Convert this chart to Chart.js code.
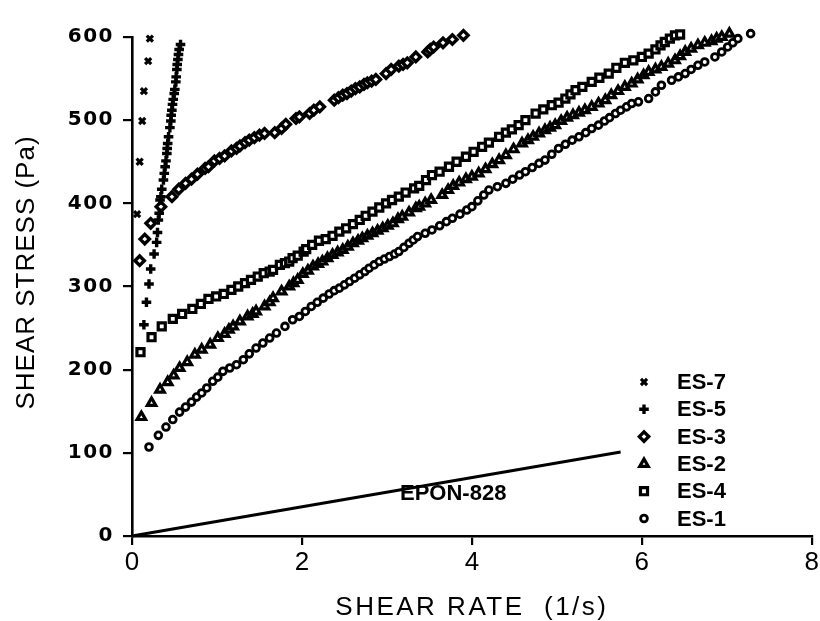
<!DOCTYPE html>
<html>
<head>
<meta charset="utf-8">
<script src="https://cdn.jsdelivr.net/npm/chart.js@4/dist/chart.umd.min.js"></script>
<style>
  html, body { margin: 0; padding: 0; background: #fff; }
  #wrap { width: 820px; height: 621px; }
</style>
</head>
<body>
<div id="wrap"><canvas id="flow" width="820" height="621"></canvas></div>
<script>
// Shear stress (Pa) against shear rate (1/s) for the ES blends and neat EPON-828.
// Each series is a list of [shear rate, shear stress] readings.

const es7 = [[0.06,387],[0.09,450],[0.12,499],[0.14,535],[0.19,571],[0.21,598],[0.25,620]];

const es5 = [[0.14,254],[0.17,281],[0.20,303],[0.22,321],[0.26,339],[0.29,353],[0.30,365],
  [0.31,380],[0.32,388],[0.33,404],[0.34,408],[0.35,417],[0.37,428],[0.38,436],[0.39,444],
  [0.40,451],[0.41,460],[0.414,466],[0.42,472],[0.43,480],[0.446,491],[0.457,499],[0.461,506],
  [0.469,512],[0.477,519],[0.485,525],[0.497,532],[0.504,537],[0.516,546],[0.52,552],
  [0.528,561],[0.532,567],[0.54,573],[0.547,579],[0.555,585],[0.571,591]];

const es3 = [[0.09,331],[0.15,357],[0.22,376],[0.34,396],[0.47,408],[0.55,417],[0.63,424],
  [0.70,429],[0.77,435],[0.86,442],[0.90,444],[0.97,451],[1.03,454],[1.09,457],[1.17,463],
  [1.23,466],[1.27,469],[1.33,473],[1.38,476],[1.44,479],[1.50,482],[1.56,484],[1.68,485],
  [1.76,490],[1.81,495],[1.93,502],[1.97,504],[2.09,508],[2.14,512],[2.21,516],[2.38,524],
  [2.43,527],[2.48,530],[2.53,532],[2.58,535],[2.63,538],[2.68,540],[2.73,543],[2.77,545],
  [2.82,547],[2.87,549],[2.99,556],[3.05,561],[3.14,565],[3.19,567],[3.24,569],[3.34,576],
  [3.48,582],[3.51,585],[3.55,588],[3.66,593],[3.77,597],[3.90,602]];

const es2 = [[0.11,143],[0.23,160],[0.33,176],[0.42,185],[0.49,193],[0.56,202],[0.65,209],
  [0.74,218],[0.82,224],[0.92,230],[1.01,238],[1.09,243],[1.14,248],[1.19,252],[1.27,258],
  [1.36,264],[1.42,267],[1.46,270],[1.56,276],[1.62,281],[1.66,286],[1.76,294],[1.85,300],
  [1.90,304],[1.95,308],[2.01,315],[2.07,319],[2.13,324],[2.19,327],[2.24,330],[2.30,334],
  [2.36,338],[2.42,341],[2.48,344],[2.54,348],[2.60,352],[2.66,355],[2.71,358],[2.77,361],
  [2.83,364],[2.89,367],[2.95,370],[3.01,373],[3.07,376],[3.13,381],[3.18,384],[3.26,389],
  [3.34,394],[3.38,396],[3.45,400],[3.52,404],[3.65,410],[3.72,416],[3.78,421],[3.85,425],
  [3.93,429],[4.00,432],[4.08,436],[4.16,441],[4.24,447],[4.32,452],[4.40,458],[4.49,465],
  [4.59,472],[4.66,476],[4.72,480],[4.79,484],[4.86,488],[4.92,491],[4.98,494],[5.05,499],
  [5.12,503],[5.19,506],[5.26,509],[5.33,512],[5.41,516],[5.49,520],[5.57,524],[5.64,530],
  [5.72,535],[5.80,540],[5.88,544],[5.95,549],[6.02,554],[6.08,558],[6.16,561],[6.23,564],
  [6.31,568],[6.39,572],[6.45,577],[6.51,582],[6.58,586],[6.66,590],[6.74,593],[6.82,595],
  [6.88,598],[6.94,600],[7.03,604]];

const es4 = [[0.10,221],[0.23,239],[0.35,252],[0.48,261],[0.59,267],[0.71,273],[0.81,279],
  [0.90,285],[0.99,288],[1.08,291],[1.17,296],[1.25,300],[1.33,304],[1.40,308],[1.48,312],
  [1.55,316],[1.62,318],[1.66,320],[1.74,326],[1.80,328],[1.85,330],[1.89,334],[1.95,337],
  [2.02,342],[2.05,345],[2.12,350],[2.20,355],[2.28,357],[2.36,361],[2.44,366],[2.52,370],
  [2.60,375],[2.68,380],[2.75,385],[2.83,390],[2.91,395],[2.99,400],[3.06,404],[3.14,408],
  [3.22,413],[3.32,418],[3.38,421],[3.46,428],[3.53,434],[3.62,438],[3.73,444],[3.82,450],
  [3.93,456],[4.02,462],[4.12,468],[4.20,473],[4.32,480],[4.40,485],[4.47,489],[4.55,494],
  [4.63,500],[4.75,508],[4.84,513],[4.94,518],[5.02,521],[5.10,526],[5.16,531],[5.22,536],
  [5.30,540],[5.41,546],[5.50,551],[5.61,556],[5.70,563],[5.80,569],[5.90,572],[6.00,576],
  [6.08,580],[6.16,585],[6.22,590],[6.27,594],[6.33,598],[6.39,602],[6.45,603]];

const es1 = [[0.20,107],[0.31,121],[0.40,131],[0.48,140],[0.56,149],[0.63,155],[0.70,161],
  [0.76,167],[0.82,172],[0.88,178],[0.95,186],[1.01,191],[1.07,198],[1.15,202],[1.23,206],
  [1.31,212],[1.38,219],[1.46,226],[1.54,232],[1.62,238],[1.70,244],[1.80,252],[1.89,260],
  [1.97,264],[2.04,270],[2.11,276],[2.18,281],[2.25,286],[2.32,291],[2.38,295],[2.44,298],
  [2.50,302],[2.56,306],[2.62,310],[2.68,314],[2.74,318],[2.79,322],[2.85,326],[2.91,330],
  [2.97,333],[3.03,336],[3.09,339],[3.14,342],[3.20,347],[3.26,352],[3.31,356],[3.36,360],
  [3.45,364],[3.53,368],[3.62,373],[3.70,378],[3.77,382],[3.86,387],[3.94,392],[4.00,396],
  [4.07,403],[4.14,410],[4.20,416],[4.30,420],[4.40,424],[4.48,429],[4.56,434],[4.63,438],
  [4.71,443],[4.79,448],[4.86,452],[4.94,459],[5.02,466],[5.10,471],[5.18,476],[5.26,480],
  [5.34,485],[5.41,490],[5.49,494],[5.56,499],[5.62,503],[5.69,508],[5.75,512],[5.82,516],
  [5.88,520],[5.96,522],[6.08,526],[6.16,534],[6.23,542],[6.35,548],[6.43,552],[6.51,556],
  [6.58,561],[6.66,566],[6.74,570],[6.86,576],[6.94,582],[7.01,588],[7.07,593],[7.13,598],
  [7.28,604]];

// Neat resin: straight Newtonian line
const epon828 = [[0, 0], [5.75, 101]];

const seriesNames = ['ES-7', 'ES-5', 'ES-3', 'ES-2', 'ES-4', 'ES-1'];
const resinName = 'EPON-828';
const rateTicks = [0, 2, 4, 6, 8];
const stressTicks = [0, 100, 200, 300, 400, 500, 600];
const rateTitle = 'SHEAR RATE  (1/s)';
const stressTitle = 'SHEAR STRESS (Pa)';

// ---- styling ----
const INK = '#000';
const MARKERS = [
  { pointStyle: 'crossRot', radius: 4.3, borderWidth: 3.2 },
  { pointStyle: 'cross',    radius: 4.8, borderWidth: 3.4 },
  { pointStyle: 'rectRot',  radius: 4.7, borderWidth: 3.4 },
  { pointStyle: 'triangle', radius: 4.9, borderWidth: 3.2 },
  { pointStyle: 'rect',     radius: 5.0, borderWidth: 3.2 },
  { pointStyle: 'circle',   radius: 3.4, borderWidth: 2.8 }
];
const KEY = { markerX: 644, textX: 677, top: 382, rowGap: 27.3,
  markerScale: 1.0, font: 'bold 22px "Liberation Sans", Arial, sans-serif' };
const RESIN_LABEL = { x: 3.78, y: 51, font: 'bold 22px "Liberation Sans", Arial, sans-serif' };
const LETTER_SPACING = { x: { ticks: '0px', title: '2.5px' }, y: { ticks: '1.5px', title: '1px' } };
const TITLE_SHIFT = { x: 0, y: -14 };

// Linear scale that can letter-space its tick labels and title
class SpacedLinearScale extends Chart.LinearScale {
  static id = 'spacedLinear';
  withSpacing(part, fn) {
    const ctx = this.ctx;
    const has = 'letterSpacing' in ctx;
    const prev = has ? ctx.letterSpacing : null;
    const s = (LETTER_SPACING[this.id] || {})[part];
    if (has && s !== undefined) ctx.letterSpacing = s;
    fn();
    if (has) ctx.letterSpacing = prev;
  }
  drawLabels(area) { this.withSpacing('ticks', () => super.drawLabels(area)); }
  drawTitle() {
    const ctx = this.ctx;
    ctx.save();
    ctx.translate(0, TITLE_SHIFT[this.id] || 0);
    this.withSpacing('title', () => super.drawTitle());
    ctx.restore();
  }
}
Chart.register(SpacedLinearScale);

const toPoints = pairs => pairs.map(([x, y]) => ({ x, y }));

const datasets = [es7, es5, es3, es2, es4, es1].map((pairs, i) => ({
  label: seriesNames[i],
  data: toPoints(pairs),
  showLine: false,
  pointStyle: MARKERS[i].pointStyle,
  pointRadius: MARKERS[i].radius,
  pointBorderWidth: MARKERS[i].borderWidth,
  pointBorderColor: INK,
  pointBackgroundColor: '#fff',
  pointHoverRadius: MARKERS[i].radius,
  clip: false,
  keyRow: i
}));

datasets.push({
  label: resinName,
  data: toPoints(epon828),
  showLine: true,
  borderColor: INK,
  borderWidth: 2.8,
  pointRadius: 0,
  clip: false
});

// Series key drawn inside the plot, lower right
const seriesKey = {
  id: 'seriesKey',
  afterDatasetsDraw(chart) {
    const ctx = chart.ctx;
    ctx.save();
    chart.data.datasets.forEach(ds => {
      if (ds.keyRow === undefined) return;
      const y = KEY.top + ds.keyRow * KEY.rowGap;
      ctx.strokeStyle = INK;
      ctx.fillStyle = '#fff';
      ctx.lineWidth = ds.pointBorderWidth;
      Chart.helpers.drawPoint(ctx, {
        pointStyle: ds.pointStyle,
        radius: ds.pointRadius * KEY.markerScale,
        borderWidth: ds.pointBorderWidth,
        rotation: 0
      }, KEY.markerX, y);
      ctx.fillStyle = INK;
      ctx.font = KEY.font;
      ctx.textAlign = 'left';
      ctx.textBaseline = 'middle';
      ctx.fillText(ds.label, KEY.textX, y + 1);
    });
    // resin line label, placed in data units under the line
    const xs = chart.scales.x, ys = chart.scales.y;
    ctx.fillStyle = INK;
    ctx.font = RESIN_LABEL.font;
    ctx.textAlign = 'center';
    ctx.textBaseline = 'middle';
    ctx.fillText(resinName, xs.getPixelForValue(RESIN_LABEL.x), ys.getPixelForValue(RESIN_LABEL.y));
    ctx.restore();
  }
};

const axisCommon = {
  type: 'spacedLinear',
  grid: { display: true, drawOnChartArea: false, drawTicks: true, tickLength: 9, color: INK, lineWidth: 2.2 },
  border: { display: true, color: INK, width: 2.6 }
};

new Chart(document.getElementById('flow'), {
  type: 'scatter',
  data: { datasets },
  plugins: [seriesKey],
  options: {
    responsive: false,
    animation: false,
    devicePixelRatio: 1,
    layout: { padding: { top: 37, right: 6, bottom: 0, left: 0 } },
    plugins: { legend: { display: false }, tooltip: { enabled: false } },
    scales: {
      x: {
        ...axisCommon,
        position: 'bottom',
        min: rateTicks[0],
        max: rateTicks[rateTicks.length - 1],
        afterBuildTicks: s => { s.ticks = rateTicks.map(v => ({ value: v })); },
        ticks: { color: INK, padding: 2, maxRotation: 0, autoSkip: false,
          font: { family: '"Liberation Sans", Arial, sans-serif', size: 26, weight: 'normal' } },
        title: { display: true, text: rateTitle, color: INK, padding: { top: 0, bottom: 0 },
          font: { family: '"Liberation Sans", Arial, sans-serif', size: 26, weight: 'normal', lineHeight: 1 } },
        afterFit: s => { s.height = 85; s.paddingLeft = 0; s.paddingRight = 6; }
      },
      y: {
        ...axisCommon,
        position: 'left',
        min: stressTicks[0],
        max: stressTicks[stressTicks.length - 1],
        afterBuildTicks: s => { s.ticks = stressTicks.map(v => ({ value: v })); },
        ticks: { color: INK, padding: 9, autoSkip: false,
          font: { family: '"DejaVu Sans", sans-serif', size: 20, weight: 'bold' } },
        title: { display: true, text: stressTitle, color: INK, padding: { top: 14, bottom: 0 },
          font: { family: '"Liberation Sans", Arial, sans-serif', size: 26, weight: 'normal', lineHeight: 1 } },
        afterFit: s => { s.width = 132; s.paddingTop = 0; s.paddingBottom = 0; }
      }
    }
  }
});
</script>
</body>
</html>
